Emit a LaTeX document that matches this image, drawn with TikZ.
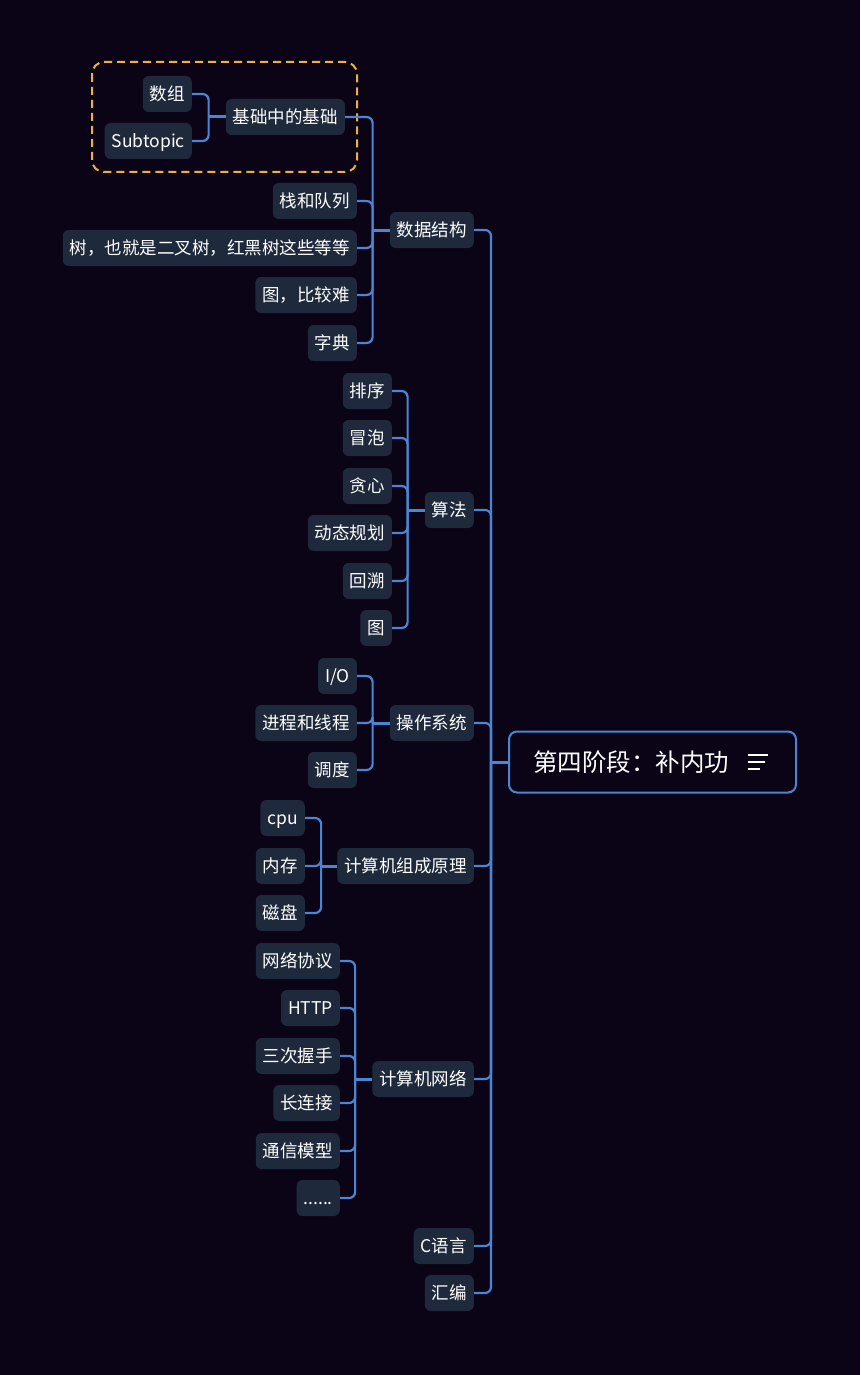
\documentclass[tikz,border=0pt]{standalone}
\usepackage{fontspec}
\setmainfont{Noto Sans CJK SC}
\usetikzlibrary{positioning,calc}
\definecolor{bgdark}{RGB}{10,4,22}
\definecolor{topicfill}{RGB}{30,41,60}
\definecolor{linkblue}{RGB}{74,134,212}
\definecolor{focusorange}{RGB}{238,178,60}

\begin{document}
\begin{tikzpicture}[x=1pt,y=-1pt,
    topic/.style={fill=topicfill,text=white,rounded corners=6pt,inner xsep=7pt,
      inner ysep=0pt,minimum height=36pt,text height=15pt,text depth=2pt,
      font=\fontsize{17.5}{20}\selectfont,anchor=east},
    root/.style={draw=linkblue,line width=2pt,fill=bgdark,text=white,rounded corners=8pt,
      inner xsep=24pt,minimum height=61pt,font=\fontsize{24.5}{28}\selectfont,anchor=west},
    link/.style={draw=linkblue,line width=2.2pt,rounded corners=6pt},
    stub/.style={draw=linkblue,line width=3pt},
    focus/.style={draw=focusorange,line width=2pt,dash pattern=on 8pt off 5pt,rounded corners=12pt}]
  \useasboundingbox (0,0) rectangle (860,1375);
  \fill[bgdark] (0,0) rectangle (860,1375);

  % central topic with its menu icon
  \node[root] (root) at (508,762) {第四阶段：补内功\hspace*{43pt}};
  \draw[white,line width=1.8pt] ($(root.east)+(-49,-7)$) -- ++(20,0)
    ($(root.east)+(-49,0)$) -- ++(17,0) ($(root.east)+(-49,7)$) -- ++(12,0);
  \coordinate (hub) at ($(root.west)+(-17,0)$);
  \draw[stub] (hub) -- (root.west);

  % main branches, all on one trunk
  \foreach \n/\yy/\t in {ds/230/数据结构, algo/510/算法, os/723/操作系统,
      arch/866/计算机组成原理, net/1079/计算机网络, clang/1246/C语言, asm/1293/汇编} {
    \node[topic] (\n) at (474,\yy) {\t};
    \draw[link] (\n.east) -| (hub);
  }

  % focus frame round the basics
  \draw[focus] (92,62) rectangle (357,172);

  % data structures
  \coordinate (dsHub) at ($(ds.west)+(-17,0)$);
  \node[topic] (base) at (345,117) {基础中的基础};
  \draw[link] (base.east) -| (dsHub);
  \foreach \n/\yy/\t in {stack/201/栈和队列, tree/248/树，也就是二叉树，红黑树这些等等,
      graph/295/图，比较难, dict/343/字典} {
    \node[topic] (\n) at (357,\yy) {\t};
    \draw[link] (\n.east) -| (dsHub);
  }
  \draw[stub] (dsHub) -- (ds.west);

  \coordinate (baseHub) at ($(base.west)+(-17,0)$);
  \foreach \n/\yy/\t in {arr/94/数组, sub/141/Subtopic} {
    \node[topic] (\n) at (192,\yy) {\t};
    \draw[link] (\n.east) -| (baseHub);
  }
  \draw[stub] (baseHub) -- (base.west);

  % algorithms
  \coordinate (algoHub) at ($(algo.west)+(-17,0)$);
  \foreach \n/\yy/\t in {sort/391/排序, bubble/438/冒泡, greedy/486/贪心,
      dp/533/动态规划, back/581/回溯, agraph/628/图} {
    \node[topic] (\n) at (392,\yy) {\t};
    \draw[link] (\n.east) -| (algoHub);
  }
  \draw[stub] (algoHub) -- (algo.west);

  % operating systems
  \coordinate (osHub) at ($(os.west)+(-17,0)$);
  \foreach \n/\yy/\t in {io/676/{I/O}, proc/723/进程和线程, sched/770/调度} {
    \node[topic] (\n) at (357,\yy) {\t};
    \draw[link] (\n.east) -| (osHub);
  }
  \draw[stub] (osHub) -- (os.west);

  % computer organisation
  \coordinate (archHub) at ($(arch.west)+(-16,0)$);
  \foreach \n/\yy/\t in {cpu/818/cpu, mem/866/内存, disk/913/磁盘} {
    \node[topic] (\n) at (305,\yy) {\t};
    \draw[link] (\n.east) -| (archHub);
  }
  \draw[stub] (archHub) -- (arch.west);

  % networks
  \coordinate (netHub) at ($(net.west)+(-17,0)$);
  \foreach \n/\yy/\t in {proto/961/网络协议, http/1008/HTTP, shake/1056/三次握手,
      keep/1103/长连接, model/1151/通信模型, more/1198/{......}} {
    \node[topic] (\n) at (340,\yy) {\t};
    \draw[link] (\n.east) -| (netHub);
  }
  \draw[stub] (netHub) -- (net.west);
\end{tikzpicture}
\end{document}
